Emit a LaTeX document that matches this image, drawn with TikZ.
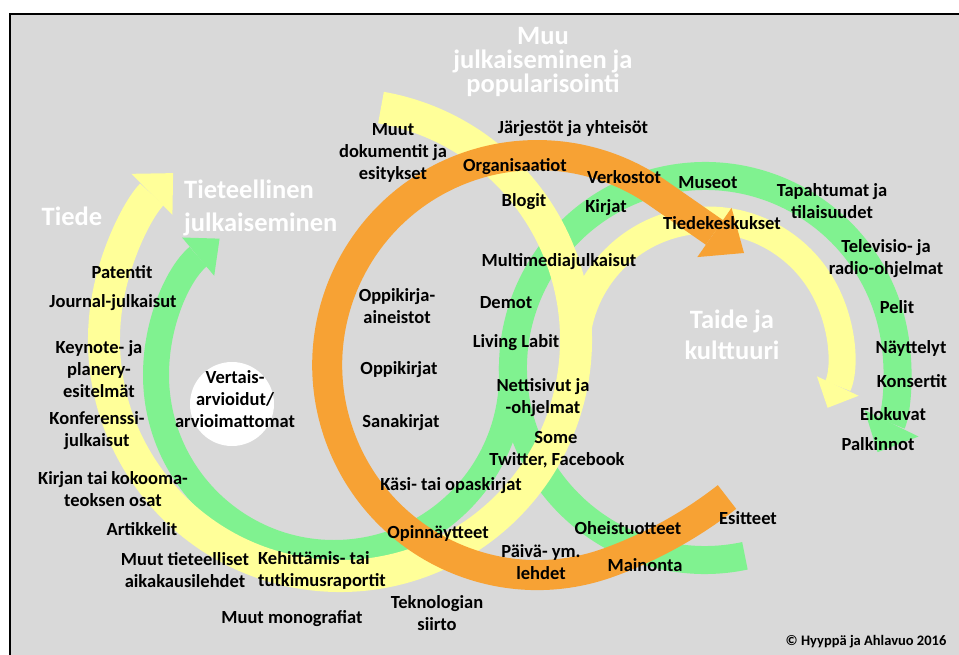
\documentclass[tikz,border=0pt]{standalone}
\usepackage{fontspec}
\setmainfont{Carlito}
\usepackage{xcolor}
\definecolor{panel}{HTML}{D9D9D9}
\definecolor{leaf}{HTML}{80F290}
\definecolor{lemon}{HTML}{FFFF99}
\definecolor{amber}{HTML}{F7A234}
\usepackage{tikz}
\usetikzlibrary{arrows.meta}

\begin{document}
\begin{tikzpicture}[x=1pt, y=-1pt,
    entry/.style={font=\bfseries\fontsize{18.5}{22}\selectfont, align=center, inner sep=0pt},
    headline/.style={text=white, font=\bfseries\fontsize{26.5}{24}\selectfont, align=center, inner sep=0pt}]
  \useasboundingbox (0,0) rectangle (959,655);
  % Panel
  \fill[panel] (10,14) rectangle (959,655);
  \draw[line width=2.7pt] (10,655) -- (10,14) -- (959,14);

  % Green loops
  \draw[leaf, line width=26pt, -{Triangle[length=28pt, width=50pt, line width=0pt]}]
    (334,375) ++(-3:178) arc[start angle=-3, end angle=230, radius=178];
  \draw[leaf, line width=28pt, -{Triangle[length=32pt, width=60pt, line width=0pt]}]
    (705,368) ++(78:192) arc[start angle=78, end angle=386, radius=192];

  % Yellow loops
  \draw[lemon, line width=32pt, -{Triangle[length=30pt, width=58pt, line width=0pt]}]
    (340,340) ++(280:236) arc[start angle=280, end angle=585, radius=236];
  \draw[lemon, line width=27pt, -{Triangle[length=24pt, width=46pt, line width=0pt]}]
    (708,352) ++(180:132) arc[start angle=180, end angle=385, radius=132];

  % Orange loop
  \draw[amber, line width=30pt, -{Triangle[length=36pt, width=60pt, line width=0pt]}]
    (727,497) arc[start angle=52, end angle=70, radius=431]
    arc[start angle=70, end angle=305, radius=210] -- (744,253);

  % White disc
  \fill[white] (232,404) circle[radius=42];

  % Headings
  \node[headline] (tiede) at (72,216) {Tiede};
  \node[headline, font=\bfseries\fontsize{26.5}{33}\selectfont, align=left, anchor=west] (tieteellinen) at (184,208) {Tieteellinen\\julkaiseminen};
  \node[headline] (muu) at (543,62) {Muu\\julkaiseminen ja\\popularisointi};
  \node[headline, font=\bfseries\fontsize{26.5}{31}\selectfont] (taide) at (732,335) {Taide ja\\kulttuuri};

  % Left labels
  \node[entry] (patentit) at (122,272) {Patentit};
  \node[entry] (journal) at (113,303) {Journal-julkaisut};
  \node[entry] (keynote) at (99,369) {Keynote- ja\\planery-\\esitelmät};
  \node[entry] (konferenssi) at (97,431) {Konferenssi-\\julkaisut};
  \node[entry] (kirjan) at (113,489) {Kirjan tai kokooma-\\teoksen osat};
  \node[entry] (artikkelit) at (142,529) {Artikkelit};
  \node[entry] (muutlehdet) at (185,570) {Muut tieteelliset\\aikakausilehdet};
  \node[entry, align=left, anchor=west] (raportit) at (258,570) {Kehittämis- tai\\tutkimusraportit};
  \node[entry] (monografiat) at (292,619) {Muut monografiat};
  \node[entry] (teknologia) at (437,613) {Teknologian\\siirto};
  \node[entry] (vertais) at (235,399) {Vertais-\\arvioidut/\\arvioimattomat};

  % Middle labels
  \node[entry] (dokumentit) at (393,153) {Muut\\dokumentit ja\\esitykset};
  \node[entry] (jarjestot) at (573,129) {Järjestöt ja yhteisöt};
  \node[entry] (organisaatiot) at (515,167) {Organisaatiot};
  \node[entry] (verkostot) at (624,177) {Verkostot};
  \node[entry] (museot) at (708,183) {Museot};
  \node[entry] (blogit) at (524,202) {Blogit};
  \node[entry] (kirjat) at (606,208) {Kirjat};
  \node[entry] (tiedekeskukset) at (722,223) {Tiedekeskukset};
  \node[entry] (multimedia) at (559,262) {Multimediajulkaisut};
  \node[entry] (oppiaineistot) at (397,306) {Oppikirja-\\aineistot};
  \node[entry] (demot) at (506,303) {Demot};
  \node[entry] (living) at (516,343) {Living Labit};
  \node[entry] (oppikirjat) at (399,370) {Oppikirjat};
  \node[entry] (nettisivut) at (543,398) {Nettisivut ja\\-ohjelmat};
  \node[entry] (sanakirjat) at (401,423) {Sanakirjat};
  \node[entry] (some) at (556,438) {Some};
  \node[entry] (twitter) at (557,460) {Twitter, Facebook};
  \node[entry] (kasikirjat) at (451,486) {Käsi- tai opaskirjat};
  \node[entry] (opinnaytteet) at (438,533) {Opinnäytteet};
  \node[entry] (oheistuotteet) at (628,528) {Oheistuotteet};
  \node[entry] (esitteet) at (748,518) {Esitteet};
  \node[entry] (lehdet) at (541,562) {Päivä- ym.\\lehdet};
  \node[entry] (mainonta) at (645,565) {Mainonta};

  % Right labels
  \node[entry] (tapahtumat) at (832,201) {Tapahtumat ja\\tilaisuudet};
  \node[entry] (televisio) at (886,259) {Televisio- ja\\radio-ohjelmat};
  \node[entry] (pelit) at (897,307) {Pelit};
  \node[entry] (nayttelyt) at (911,348) {Näyttelyt};
  \node[entry] (konsertit) at (912,381) {Konsertit};
  \node[entry] (elokuvat) at (893,414) {Elokuvat};
  \node[entry] (palkinnot) at (878,444) {Palkinnot};

  % Credit
  \node[entry, font=\bfseries\fontsize{14.5}{16}\selectfont] (credit) at (866,642) {© Hyyppä ja Ahlavuo 2016};
\end{tikzpicture}
\end{document}
